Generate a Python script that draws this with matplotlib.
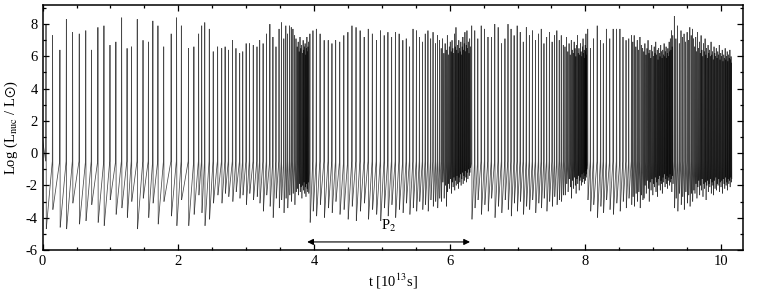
import matplotlib
matplotlib.use("Agg")
import matplotlib.pyplot as plt
from matplotlib.ticker import MultipleLocator
from matplotlib.collections import LineCollection
import numpy as np

# ---------------- data ----------------
# flash times [1e13 s], peak and post-flash minimum of log(L_nuc/Lsun)
c1_t = [0.05, 0.147, 0.255, 0.35, 0.442, 0.54, 0.636, 0.72, 0.815, 0.904, 0.993, 1.08, 1.165, 1.245,
        1.31, 1.395, 1.48, 1.56, 1.625, 1.70, 1.785, 1.895, 1.975, 2.045, 2.15, 2.23, 2.30, 2.345,
        2.39, 2.457, 2.515,
        2.58, 2.64, 2.69, 2.74, 2.80, 2.85, 2.905, 2.95, 3.00, 3.05, 3.105, 3.16, 3.20, 3.25, 3.30,
        3.35, 3.395, 3.44, 3.485, 3.52, 3.555,
        3.585, 3.61, 3.64, 3.665, 3.69, 3.715, 3.735,
        3.752, 3.767, 3.781, 3.794, 3.806, 3.818, 3.829, 3.84, 3.85, 3.86, 3.869, 3.878, 3.887,
        3.896, 3.904, 3.912, 3.92]
c1_peak = [8.0, 7.3, 6.4, 8.3, 7.5, 7.4, 7.6, 6.4, 7.8, 7.9, 6.7, 6.9, 8.4, 6.5, 6.6, 8.3, 7.0, 6.9,
           8.2, 7.9, 6.6, 7.4, 8.4, 7.9, 6.5, 6.6, 7.4, 7.9, 8.1, 7.7, 6.3,
           6.6, 6.5, 6.6, 6.4, 7.0, 6.5, 6.2, 6.3, 6.8, 6.8, 6.7, 6.6, 7.0, 6.8, 7.4, 8.0, 7.2, 6.6,
           7.7, 8.1, 7.1,
           7.9, 7.4, 7.9, 7.8, 7.7, 7.3, 7.1,
           6.6, 6.9, 6.3, 7.2, 6.5, 6.7, 6.2, 7.0, 6.4, 6.6, 6.8, 6.1, 6.5, 7.2, 6.3, 6.6, 6.9]
c1_low = [-4.7, -3.5, -4.6, -4.7, -3.1, -4.4, -4.2, -3.2, -4.3, -4.5, -2.9, -3.8, -3.4, -4.0, -3.0,
          -4.7, -2.8, -4.0, -3.1, -4.4, -3.0, -3.9, -4.5, -2.9, -4.5, -3.8, -2.6, -3.7, -4.5, -4.1,
          -3.1,
          -2.6, -3.1, -2.5, -2.7, -3.0, -2.4, -2.8, -2.6, -3.2, -2.5, -2.9, -2.7, -3.1, -3.6, -2.6,
          -3.3, -4.0, -2.8, -3.4, -2.9, -3.7,
          -2.8, -3.4, -2.6, -3.0, -2.5, -3.2, -2.4,
          -2.2, -2.6, -1.9, -2.4, -2.1, -2.8, -2.0, -2.3, -1.8, -2.5, -2.1, -2.7, -1.9, -2.2, -2.4,
          -1.8, -2.5]

c2_t = [3.94, 3.985, 4.035, 4.09, 4.15, 4.21, 4.265, 4.32, 4.38, 4.44, 4.50, 4.56, 4.62, 4.68, 4.74,
        4.80, 4.86, 4.92, 4.98, 5.035, 5.09, 5.145, 5.20, 5.255, 5.31, 5.36, 5.41, 5.46, 5.51, 5.555,
        5.60, 5.64, 5.68, 5.72, 5.755, 5.79, 5.82, 5.85,
        5.875, 5.896, 5.915, 5.933, 5.95, 5.966, 5.981, 5.995, 6.009, 6.022, 6.035, 6.047, 6.059,
        6.071, 6.082, 6.093, 6.104, 6.115, 6.125, 6.135, 6.145, 6.155, 6.165, 6.175, 6.185, 6.195,
        6.205, 6.215, 6.225, 6.235, 6.245, 6.255, 6.265, 6.275, 6.285, 6.295, 6.305]
c2_peak = [7.4, 7.6, 7.7, 7.4, 7.0, 7.0, 6.8, 7.0, 6.9, 7.3, 7.5, 7.9, 7.8, 7.6, 7.2, 7.7, 7.4, 7.0,
           7.6, 7.3, 7.5, 7.2, 7.5, 7.4, 7.0, 7.1, 6.6, 7.7, 7.6, 7.2, 6.9, 7.4, 7.6, 7.1, 7.5, 6.8,
           7.3, 7.0,
           6.5, 7.1, 6.2, 6.8, 6.4, 7.3, 6.1, 6.6, 6.9, 6.3, 7.0, 6.5, 6.2, 7.4, 6.6, 7.8, 6.4, 6.7,
           6.2, 7.0, 6.5, 6.3, 6.9, 6.1, 6.6, 7.2, 6.4, 6.8, 7.5, 6.3, 6.7, 7.6, 6.5, 6.9, 6.2, 7.1,
           6.6]
c2_low = [-4.3, -3.6, -3.9, -3.2, -4.0, -3.4, -3.7, -3.0, -3.8, -3.5, -4.1, -3.3, -4.2, -3.6, -3.1,
          -4.1, -3.5, -3.8, -4.2, -3.4, -3.9, -3.2, -4.0, -3.5, -3.7, -3.1, -3.8, -3.4, -3.6, -3.0,
          -3.5, -3.2, -3.6, -2.9, -3.3, -3.0, -3.4, -2.8,
          -3.0, -1.8, -2.8, -2.0, -3.3, -2.4, -1.9, -2.2, -1.6, -2.5, -1.8, -2.1, -1.5, -2.3, -1.7,
          -2.0, -1.4, -1.9, -2.2, -1.5, -1.8, -1.3, -2.0, -1.6, -1.2, -1.9, -1.4, -1.7, -1.1, -1.5,
          -1.8, -1.2, -1.6, -1.0, -1.4, -1.2, -0.9]

c3_t = [6.325, 6.37, 6.415, 6.465, 6.515, 6.565, 6.615, 6.665, 6.715, 6.765, 6.815, 6.86, 6.905,
        6.95, 6.995, 7.04, 7.085, 7.13, 7.175, 7.22, 7.265, 7.31, 7.35, 7.39, 7.43, 7.47, 7.51, 7.545,
        7.58, 7.615, 7.645, 7.675,
        7.70, 7.722, 7.742, 7.76, 7.777, 7.793, 7.808, 7.822, 7.835, 7.848, 7.86, 7.872, 7.884,
        7.895, 7.906, 7.917, 7.927, 7.937, 7.947, 7.957, 7.966, 7.975, 7.983, 7.991, 7.998, 8.004,
        8.009, 8.014, 8.018]
c3_peak = [7.9, 7.6, 7.1, 7.9, 7.7, 7.2, 7.2, 8.0, 7.8, 6.8, 7.1, 8.0, 7.7, 7.3, 7.9, 7.5, 6.9, 7.8,
           7.3, 7.6, 7.0, 7.4, 7.7, 6.8, 7.2, 7.5, 6.9, 7.3, 7.6, 7.0, 7.3, 6.7,
           6.6, 7.2, 6.3, 6.8, 6.1, 7.0, 6.4, 6.2, 6.9, 6.5, 6.0, 6.7, 7.3, 6.2, 6.5, 6.1, 6.8, 6.3,
           6.0, 6.6, 7.1, 6.2, 6.4, 5.9, 6.7, 6.3, 7.4, 6.1, 6.5]
c3_low = [-4.1, -3.4, -2.9, -3.8, -3.2, -3.6, -2.8, -4.0, -3.3, -3.7, -2.9, -3.5, -3.9, -3.1, -3.6,
          -3.0, -3.8, -3.3, -3.5, -2.9, -3.7, -3.1, -3.4, -2.8, -3.6, -3.0, -3.3, -2.7, -3.2, -2.9,
          -3.0, -2.6,
          -2.6, -1.9, -2.4, -1.6, -2.1, -2.8, -1.7, -2.2, -1.5, -2.0, -2.5, -1.6, -1.9, -1.4, -2.3,
          -1.7, -1.5, -2.0, -1.3, -1.8, -1.6, -1.2, -1.9, -1.4, -1.7, -1.1, -1.5, -1.3, -1.0]

c4_t = [8.035, 8.075, 8.12, 8.175, 8.225, 8.265, 8.31, 8.36, 8.41, 8.46, 8.51, 8.555, 8.60, 8.64, 8.68,
        8.70, 8.72, 8.745, 8.765, 8.785, 8.805, 8.825, 8.845,
        8.862, 8.878, 8.894, 8.909, 8.924, 8.938, 8.952, 8.965, 8.978, 8.991, 9.003, 9.015, 9.027,
        9.038, 9.049, 9.06, 9.071, 9.081, 9.091, 9.101, 9.111, 9.121, 9.131, 9.141, 9.151, 9.161,
        9.171, 9.181, 9.19, 9.199, 9.208, 9.217, 9.226, 9.235, 9.244, 9.253, 9.262, 9.271, 9.28,
        9.289]
c4_peak = [7.7, 6.5, 7.1, 7.9, 7.0, 6.8, 7.7, 7.1, 7.7, 7.7, 7.7, 7.2, 7.0, 7.1, 7.3,
           6.9, 7.3, 6.6, 7.0, 6.4, 7.2, 6.7, 6.5,
           6.3, 6.8, 6.1, 6.5, 7.0, 6.2, 6.4, 5.9, 6.7, 6.3, 6.0, 6.6, 6.2, 6.9, 6.1, 6.4, 5.8, 6.5,
           6.2, 6.0, 6.7, 6.3, 5.9, 6.4, 6.1, 6.8, 6.0, 6.3, 6.6, 5.9, 6.2, 6.5, 6.0, 6.9, 6.3, 7.1,
           6.4, 7.6, 6.6, 7.3]
c4_low = [-2.9, -3.6, -3.2, -4.0, -3.3, -3.7, -2.9, -3.5, -3.8, -3.1, -3.6, -3.0, -3.4, -2.8, -3.2,
          -2.7, -3.3, -2.5, -3.0, -2.4, -3.4, -2.6, -2.9,
          -2.8, -2.0, -2.5, -1.7, -2.2, -3.0, -1.8, -2.3, -1.6, -2.6, -1.9, -2.1, -1.5, -2.4, -1.8,
          -2.7, -1.6, -2.0, -1.4, -2.3, -1.7, -1.9, -2.5, -1.5, -1.8, -1.3, -2.1, -1.6, -1.9, -1.4,
          -2.2, -1.7, -1.5, -2.0, -1.3, -1.8, -1.6, -2.4, -1.4, -1.9]

c5_t = [9.312, 9.335, 9.36, 9.385, 9.41, 9.432, 9.455, 9.478, 9.50, 9.52, 9.54, 9.56, 9.578, 9.596,
        9.612, 9.627, 9.641, 9.655, 9.668, 9.681, 9.694, 9.706, 9.718, 9.73, 9.742, 9.754, 9.765,
        9.776, 9.787, 9.798, 9.809, 9.82, 9.831, 9.842, 9.853, 9.864, 9.875, 9.886, 9.897, 9.908,
        9.919, 9.93, 9.941, 9.952, 9.963, 9.974, 9.985, 9.996, 10.007, 10.018, 10.029, 10.04,
        10.051, 10.061, 10.071, 10.081, 10.091, 10.101, 10.111, 10.121, 10.131, 10.14, 10.148,
        10.155]
c5_peak = [8.5, 7.1, 7.9, 6.8, 7.6, 7.2, 7.4, 6.9, 7.5, 7.0, 7.8, 7.3, 7.7, 7.1,
           6.6, 7.2, 6.3, 7.5, 6.5, 6.9, 6.2, 7.3, 6.4, 6.0, 6.8, 6.3, 7.1, 6.1, 6.5, 5.9, 6.7, 6.2,
           6.4, 6.0, 6.9, 6.1, 6.3, 5.8, 6.6, 6.2, 6.0, 6.5, 5.9, 6.3, 6.1, 6.7, 5.8, 6.2, 6.0, 6.4,
           5.7, 6.1, 5.9, 6.5, 5.8, 6.0, 6.3, 5.7, 6.1, 5.9, 6.4, 5.8, 6.0, 5.6]
c5_low = [-3.4, -2.8, -3.6, -2.5, -3.2, -2.7, -3.5, -2.4, -3.1, -2.6, -3.3, -2.5, -3.0, -2.3,
          -2.5, -1.9, -2.8, -2.1, -1.7, -2.6, -2.0, -2.3, -1.6, -2.7, -1.9, -2.2, -1.8, -2.9, -2.0,
          -1.7, -2.4, -1.9, -2.1, -1.6, -2.5, -1.8, -2.0, -2.6, -1.7, -2.2, -1.5, -2.3, -1.9, -2.0,
          -1.6, -2.4, -1.8, -2.1, -1.7, -2.5, -1.6, -1.9, -2.2, -1.5, -2.0, -1.8, -2.3, -1.6, -1.9,
          -1.7, -2.1, -1.5, -1.8, -1.6]

start_point = (0.0, 0.8)      # value at the left edge
pre_level = -0.5              # level just before each flash rises

xticks = [0, 2, 4, 6, 8, 10]
yticks = [-6, -4, -2, 0, 2, 4, 6, 8]
p2_start, p2_end = 3.9, 6.3

# ---------------- build the light curve (one polyline piece per flash) ----------------
times = np.concatenate([c1_t, c2_t, c3_t, c4_t, c5_t])
peaks = np.concatenate([c1_peak, c2_peak, c3_peak, c4_peak, c5_peak])
lows = np.concatenate([c1_low, c2_low, c3_low, c4_low, c5_low])

w = 0.004  # half width of a flash
pieces = []
prev = start_point
for t, p, m in zip(times, peaks, lows):
    pieces.append([prev, (t - w, pre_level), (t, p), (t + w, m)])
    prev = (t + w, m)

# ---------------- figure ----------------
plt.rcParams['font.family'] = ['Liberation Serif', 'DejaVu Serif']
plt.rcParams['mathtext.fontset'] = 'stix'
plt.rcParams['axes.unicode_minus'] = False

fig = plt.figure(figsize=(7.61, 2.95), dpi=100)
ax = fig.add_axes([0.056, 0.1525, 0.92, 0.8315])
lc = LineCollection(pieces, colors='black', linewidths=0.55, alpha=0.72, joinstyle='miter')
ax.add_collection(lc)

ax.set_xlim(0, 10.32)
ax.set_ylim(-6, 9.2)
ax.set_xticks(xticks)
ax.set_yticks(yticks)
ax.xaxis.set_minor_locator(MultipleLocator(0.5))
ax.yaxis.set_minor_locator(MultipleLocator(1))
ax.tick_params(which='both', direction='in', top=True, right=True, labelsize=10.5, width=0.9)
ax.tick_params(which='major', length=4)
ax.tick_params(which='minor', length=2.5)
for s in ax.spines.values():
    s.set_linewidth(1.1)

ax.set_xlabel(r't [10$^{13}$s]', fontsize=10.5, labelpad=3)
ax.set_ylabel(r'Log (L$_{\rm nuc}$ / L$\odot$)', fontsize=10.5, labelpad=4)

ax.annotate('', xy=(p2_start, -5.5), xytext=(p2_end, -5.5),
            arrowprops=dict(arrowstyle='<|-|>', color='black', lw=0.8,
                            mutation_scale=9, shrinkA=0, shrinkB=0))
ax.text((p2_start + p2_end) / 2, -5.0, r'P$_2$', ha='center', va='bottom', fontsize=10.5)

fig.savefig('out.png', dpi=100)
